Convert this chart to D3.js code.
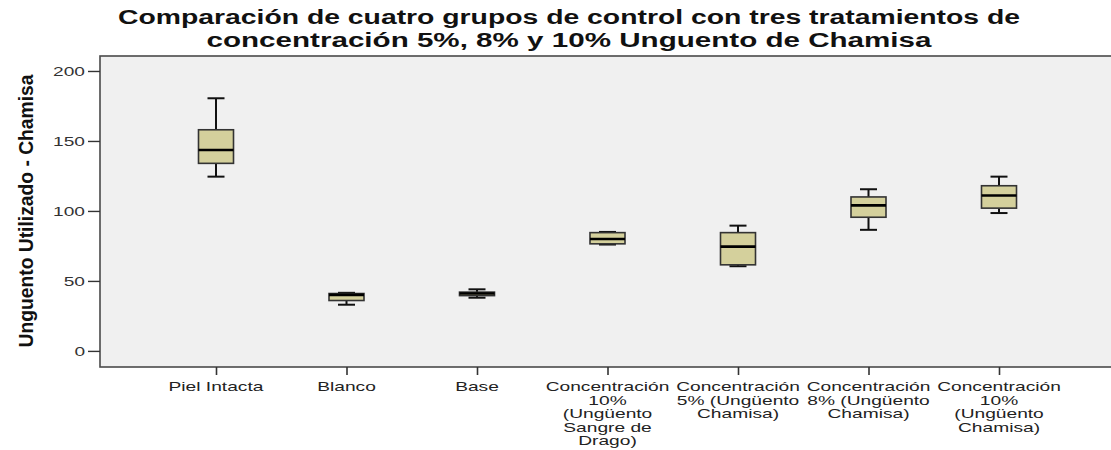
<!DOCTYPE html>
<html>
<head>
<meta charset="utf-8">
<script src="https://cdn.jsdelivr.net/npm/d3@7"></script>
<style>
  html, body { margin: 0; padding: 0; background: #fff; }
  svg { display: block; font-family: Arial, "Liberation Sans", sans-serif; }
</style>
</head>
<body>
<svg id="chart" width="1111" height="450"></svg>
<script>
/* ---------- data --------------------------------------------- */
const groups = [
  ['Piel Intacta'],
  ['Blanco'],
  ['Base'],
  ['Concentración', '10%', '(Ungüento', 'Sangre de', 'Drago)'],
  ['Concentración', '5% (Ungüento', 'Chamisa)'],
  ['Concentración', '8% (Ungüento', 'Chamisa)'],
  ['Concentración', '10%', '(Ungüento', 'Chamisa)']
];
const whiskLow  = [124.5, 33,  38,   76,   60.5, 86.5, 98.5];
const q1        = [134,   36,  39.5, 76.5, 61.5, 95.5, 102];
const median    = [143.5, 40,  41,   80,   74.5, 104,  111];
const q3        = [158,   41,  42,   84.5, 84.5, 110,  118];
const whiskHigh = [180.5, 41.5, 44,  85,   89.5, 115.5, 124.5];
const yTicks    = [0, 50, 100, 150, 200];

const titleLines = [
  'Comparación de cuatro grupos de control con tres tratamientos de',
  'concentración 5%, 8% y 10% Unguento de Chamisa'
];
const yLabel = 'Unguento Utilizado - Chamisa';

/* ---------- layout ------------------------------------------- */
const svg = d3.select('#chart');
const frame = { left: 100, right: 1120, top: 56, bottom: 367 };

const keys = groups.map((_, i) => 'g' + i);
const x = d3.scalePoint().domain(keys).range([216, 999]);
const y = d3.scaleLinear().domain([-11.5, 210.7]).range([frame.bottom, frame.top]);

const boxW = 35, capW = 17;

// widen text by measuring it first (the source is stretched sideways)
function stretch(sel, k) {
  sel.each(function () {
    const w = this.getComputedTextLength();
    d3.select(this).attr('textLength', w * k).attr('lengthAdjust', 'spacingAndGlyphs');
  });
}

/* ---------- title -------------------------------------------- */
svg.selectAll('.title')
  .data(titleLines)
  .enter().append('text')
    .attr('class', 'title')
    .attr('x', 569)
    .attr('y', (d, i) => 24 + i * 23)
    .attr('text-anchor', 'middle')
    .style('font-size', '19.5px')
    .style('font-weight', 'bold')
    .style('fill', '#111')
    .text(d => d)
    .attr('textLength', (d, i) => [902, 725][i])
    .attr('lengthAdjust', 'spacingAndGlyphs');

/* ---------- plot background & frame -------------------------- */
svg.append('rect')
  .attr('x', frame.left).attr('y', frame.top)
  .attr('width', frame.right - frame.left)
  .attr('height', frame.bottom - frame.top)
  .attr('fill', '#f0f0f0')
  .attr('stroke', '#4a4a4a')
  .attr('stroke-width', 1.6);

/* ---------- y axis ------------------------------------------- */
const yAxis = d3.axisLeft(y).tickValues(yTicks).tickSize(12).tickPadding(3);
const ya = svg.append('g')
  .attr('transform', `translate(${frame.left},0)`)
  .call(yAxis);
ya.select('.domain').remove();
ya.selectAll('line').attr('stroke', '#333').attr('stroke-width', 1.4);
ya.selectAll('text')
  .style('font-size', '13px')
  .style('fill', '#333')
  .style('font-family', 'Arial, "Liberation Sans", sans-serif')
  .call(stretch, 1.47);

svg.append('text')
  .attr('transform', 'translate(33,211) rotate(-90)')
  .attr('text-anchor', 'middle')
  .style('font-size', '20px')
  .style('font-weight', 'bold')
  .style('fill', '#111')
  .text(yLabel)
  .attr('textLength', 273)
  .attr('lengthAdjust', 'spacingAndGlyphs');

/* ---------- x axis ------------------------------------------- */
const xa = svg.append('g')
  .attr('transform', `translate(0,${frame.bottom})`)
  .call(d3.axisBottom(x).tickSize(8).tickFormat(''));
xa.select('.domain').remove();
xa.selectAll('line').attr('stroke', '#333').attr('stroke-width', 1.6);

const xl = svg.append('g').selectAll('g')
  .data(groups)
  .enter().append('g')
    .attr('transform', (d, i) => `translate(${x(keys[i])},391)`);
xl.selectAll('text')
  .data(d => d)
  .enter().append('text')
    .attr('y', (d, i) => i * 13.6)
    .attr('text-anchor', 'middle')
    .style('font-size', '13.5px')
    .style('fill', '#222')
    .text(d => d)
    .call(stretch, 1.42);

/* ---------- boxes -------------------------------------------- */
const box = svg.append('g').selectAll('g')
  .data(keys)
  .enter().append('g')
    .attr('transform', d => `translate(${x(d)},0)`);

// whisker stems
box.append('line')
  .attr('y1', (d, i) => y(whiskHigh[i])).attr('y2', (d, i) => y(q3[i]))
  .attr('stroke', '#111').attr('stroke-width', 2);
box.append('line')
  .attr('y1', (d, i) => y(q1[i])).attr('y2', (d, i) => y(whiskLow[i]))
  .attr('stroke', '#111').attr('stroke-width', 2);

// caps
box.append('line')
  .attr('x1', -capW / 2).attr('x2', capW / 2)
  .attr('y1', (d, i) => y(whiskHigh[i])).attr('y2', (d, i) => y(whiskHigh[i]))
  .attr('stroke', '#111').attr('stroke-width', 2);
box.append('line')
  .attr('x1', -capW / 2).attr('x2', capW / 2)
  .attr('y1', (d, i) => y(whiskLow[i])).attr('y2', (d, i) => y(whiskLow[i]))
  .attr('stroke', '#111').attr('stroke-width', 2);

// body
box.append('rect')
  .attr('x', -boxW / 2).attr('width', boxW)
  .attr('y', (d, i) => y(q3[i]))
  .attr('height', (d, i) => y(q1[i]) - y(q3[i]))
  .attr('fill', '#d4d09c')
  .attr('stroke', '#333').attr('stroke-width', 1.6);

// median
box.append('line')
  .attr('x1', -boxW / 2).attr('x2', boxW / 2)
  .attr('y1', (d, i) => y(median[i])).attr('y2', (d, i) => y(median[i]))
  .attr('stroke', '#000').attr('stroke-width', 2.6);
</script>
</body>
</html>
